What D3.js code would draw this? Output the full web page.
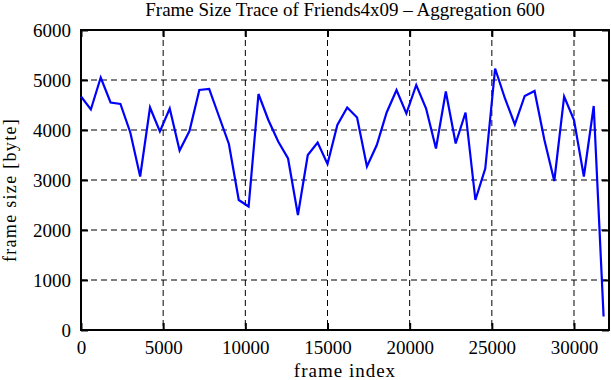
<!DOCTYPE html>
<html>
<head>
<meta charset="utf-8">
<script src="https://cdn.jsdelivr.net/npm/d3@7"></script>
<style>
  body { margin: 0; background: #fff; }
  text { font-family: "Liberation Serif", "Times New Roman", serif; fill: #000; }
</style>
</head>
<body>
<svg id="chart" width="611" height="380"></svg>
<script>
// aggregation step: one point every 600 frames
const step = 600;
const frameSize = [
  4670, 4410, 5050, 4550, 4520, 3950, 3070, 4450, 3970, 4430,
  3590, 3980, 4800, 4820, 4270, 3720, 2600, 2470, 4720, 4200,
  3770, 3430, 2300, 3500, 3750, 3320, 4100, 4450, 4250, 3270,
  3700, 4350, 4800, 4330, 4900, 4430, 3630, 4770, 3730, 4350,
  2600, 3230, 5230, 4630, 4110, 4680, 4780, 3800, 2980, 4670,
  4200, 3070, 4480, 270
];
const xTicks = [0, 5000, 10000, 15000, 20000, 25000, 30000];
const yTicks = [0, 1000, 2000, 3000, 4000, 5000, 6000];

const data = frameSize.map((v, i) => ({x: i * step, y: v}));

const width = 611, height = 380;
const margin = {top: 30, right: 2, bottom: 50, left: 81};
const iw = width - margin.left - margin.right;
const ih = height - margin.top - margin.bottom;
const fontSize = 19;

const svg = d3.select("#chart");
const g = svg.append("g").attr("transform", `translate(${margin.left},${margin.top})`);

const x = d3.scaleLinear().domain([0, 32130]).range([0, iw]);
const y = d3.scaleLinear().domain([0, 6000]).range([ih, 0]);

// dashed grid
g.append("g").selectAll("line")
  .data(yTicks.slice(1, -1))
  .enter().append("line")
    .attr("x1", 0).attr("x2", iw)
    .attr("y1", d => y(d)).attr("y2", d => y(d))
    .attr("stroke", "#000").attr("stroke-width", 1)
    .attr("stroke-dasharray", "6,4");
g.append("g").selectAll("line")
  .data(xTicks.slice(1))
  .enter().append("line")
    .attr("y1", 0).attr("y2", ih)
    .attr("x1", d => x(d)).attr("x2", d => x(d))
    .attr("stroke", "#000").attr("stroke-width", 1)
    .attr("stroke-dasharray", "6,4");

// axes, ticks pointing inward
const tickLen = 7;
const fmt = d3.format("d");
const xb = g.append("g").attr("transform", `translate(0,${ih})`)
  .call(d3.axisBottom(x).tickValues(xTicks).tickFormat(fmt).tickSizeInner(-tickLen).tickSizeOuter(0).tickPadding(11));
const xt = g.append("g")
  .call(d3.axisTop(x).tickValues(xTicks).tickSizeInner(-tickLen).tickSizeOuter(0).tickFormat(""));
const yl = g.append("g")
  .call(d3.axisLeft(y).tickValues(yTicks).tickFormat(fmt).tickSizeInner(-tickLen).tickSizeOuter(0).tickPadding(10));
const yr = g.append("g").attr("transform", `translate(${iw},0)`)
  .call(d3.axisRight(y).tickValues(yTicks).tickSizeInner(-tickLen).tickSizeOuter(0).tickFormat(""));

[xb, xt, yl, yr].forEach(a => {
  a.attr("font-family", null).attr("font-size", null);
  a.select(".domain").remove();
  a.selectAll(".tick line").attr("stroke", "#000").attr("stroke-width", 2);
  a.selectAll("text").attr("font-size", fontSize).attr("fill", "#000");
});

// frame
g.append("rect")
  .attr("x", 0).attr("y", 0).attr("width", iw).attr("height", ih)
  .attr("fill", "none").attr("stroke", "#000").attr("stroke-width", 2);

// trace line
const line = d3.line().x(d => x(d.x)).y(d => y(d.y));
g.append("path")
  .datum(data)
  .attr("d", line)
  .attr("fill", "none")
  .attr("stroke", "#0000ff")
  .attr("stroke-width", 2.2)
  .attr("stroke-linejoin", "miter");

// labels
svg.append("text")
  .attr("x", margin.left + iw / 2).attr("y", 16)
  .attr("text-anchor", "middle").attr("font-size", fontSize)
  .text("Frame Size Trace of Friends4x09 \u2013 Aggregation 600");
svg.append("text")
  .attr("x", margin.left + iw / 2).attr("y", 377)
  .attr("text-anchor", "middle").attr("font-size", fontSize)
  .attr("letter-spacing", 1)
  .text("frame index");
svg.append("text")
  .attr("transform", `translate(16,190) rotate(-90)`)
  .attr("text-anchor", "middle").attr("font-size", 18)
  .attr("letter-spacing", 1.3)
  .text("frame size [byte]");
</script>
</body>
</html>
